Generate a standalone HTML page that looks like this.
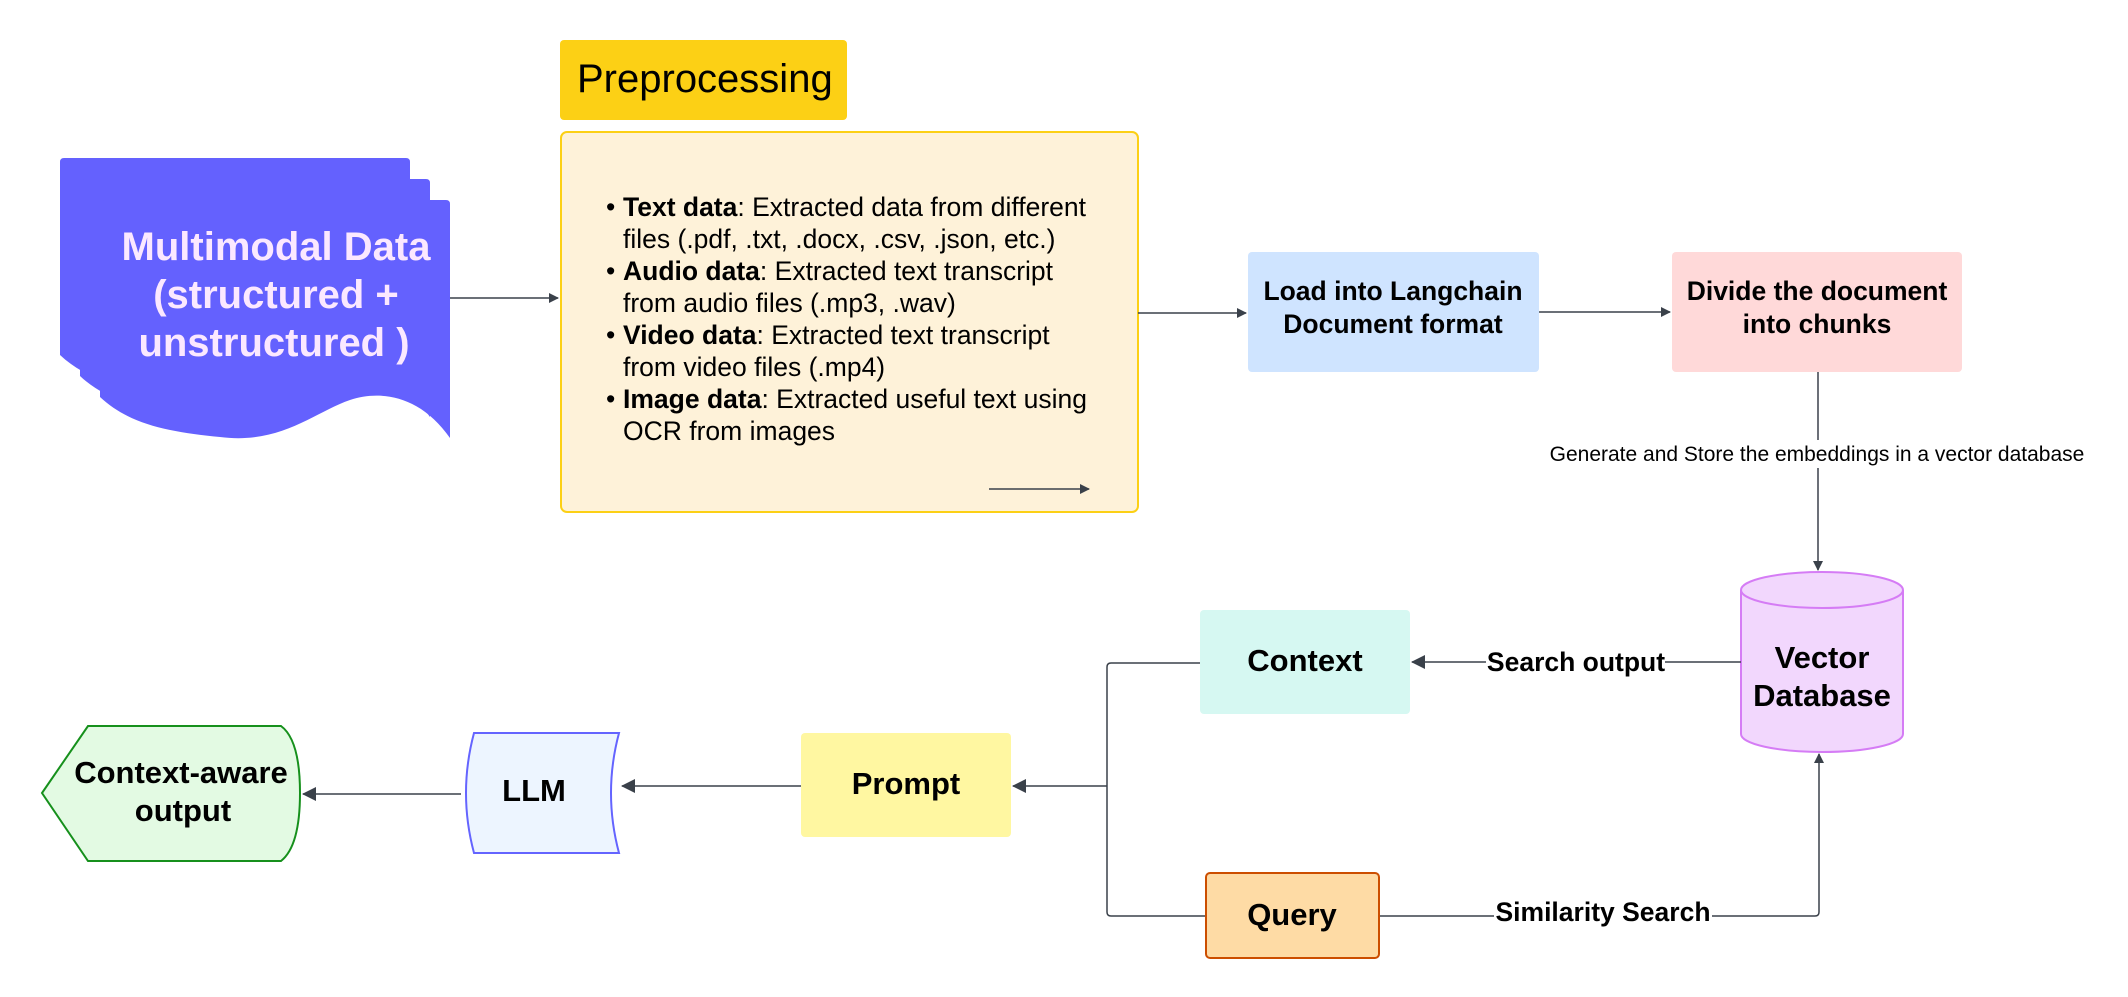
<!DOCTYPE html>
<html><head><meta charset="utf-8"><style>
html,body{margin:0;padding:0;background:#fff;}
svg{display:block;font-family:"Liberation Sans",Arial,sans-serif;}
</style></head><body>
<svg width="2128" height="997" viewBox="0 0 2128 997" xmlns="http://www.w3.org/2000/svg">
<defs>
<marker id="ah" markerWidth="10" markerHeight="10" refX="9" refY="5" orient="auto" markerUnits="userSpaceOnUse">
<path d="M0,0 L10,5 L0,10 z" fill="#3a414a"/></marker>
<marker id="ahb" markerWidth="14" markerHeight="14" refX="13" refY="7" orient="auto" markerUnits="userSpaceOnUse">
<path d="M0,0 L14,7 L0,14 z" fill="#3a414a"/></marker>
</defs>
<rect width="2128" height="997" fill="#fff"/>

<g fill="#6461fe">
<path transform="translate(60,158)" d="M0,4 Q0,0 4,0 H346 Q350,0 350,4 V238 C320,195 280,190 250,200 C215,212 180,245 120,237 C70,232 30,225 0,197 Z"/>
<path transform="translate(80,179)" d="M0,4 Q0,0 4,0 H346 Q350,0 350,4 V238 C320,195 280,190 250,200 C215,212 180,245 120,237 C70,232 30,225 0,197 Z"/>
<path transform="translate(100,200)" d="M0,4 Q0,0 4,0 H346 Q350,0 350,4 V238 C320,195 280,190 250,200 C215,212 180,245 120,237 C70,232 30,225 0,197 Z"/>
</g>
<g fill="#fbe8ff" font-weight="bold" font-size="40" text-anchor="middle">
<text x="276" y="260">Multimodal Data</text>
<text x="276" y="308">(structured +</text>
<text x="274" y="356">unstructured )</text>
</g>
<line x1="450" y1="298" x2="558" y2="298" stroke="#3a414a" stroke-width="1.5" marker-end="url(#ah)"/>

<rect x="560" y="40" width="287" height="80" rx="4" fill="#fcd015"/>
<text x="577" y="92" font-size="40" fill="#000">Preprocessing</text>
<rect x="561" y="132" width="577" height="380" rx="6" fill="#fef2d9" stroke="#fcd015" stroke-width="2"/>
<g font-size="26.5" fill="#000">
<text x="606" y="216">•</text><text x="623" y="216"><tspan font-weight="bold">Text data</tspan>: Extracted data from different</text>
<text x="623" y="248">files (.pdf, .txt, .docx, .csv, .json, etc.)</text>
<text x="606" y="280">•</text><text x="623" y="280"><tspan font-weight="bold">Audio data</tspan>: Extracted text transcript</text>
<text x="623" y="312">from audio files (.mp3, .wav)</text>
<text x="606" y="344">•</text><text x="623" y="344"><tspan font-weight="bold">Video data</tspan>: Extracted text transcript</text>
<text x="623" y="376">from video files (.mp4)</text>
<text x="606" y="408">•</text><text x="623" y="408"><tspan font-weight="bold">Image data</tspan>: Extracted useful text using</text>
<text x="623" y="440">OCR from images</text>
</g>
<line x1="989" y1="489" x2="1089" y2="489" stroke="#3a414a" stroke-width="1.5" marker-end="url(#ah)"/>

<line x1="1138" y1="313" x2="1246" y2="313" stroke="#3a414a" stroke-width="1.5" marker-end="url(#ah)"/>
<rect x="1248" y="252" width="291" height="120" rx="4" fill="#cfe4ff"/>
<g font-weight="bold" font-size="26.5" text-anchor="middle" fill="#000">
<text x="1393" y="300">Load into Langchain</text>
<text x="1393" y="333">Document format</text>
</g>
<line x1="1539" y1="312" x2="1670" y2="312" stroke="#3a414a" stroke-width="1.5" marker-end="url(#ah)"/>
<rect x="1672" y="252" width="290" height="120" rx="4" fill="#ffd9d9"/>
<g font-weight="bold" font-size="26.5" text-anchor="middle" fill="#000">
<text x="1817" y="300">Divide the document</text>
<text x="1817" y="333">into chunks</text>
</g>

<line x1="1818" y1="372" x2="1818" y2="440" stroke="#3a414a" stroke-width="1.5"/>
<line x1="1818" y1="468" x2="1818" y2="570" stroke="#3a414a" stroke-width="1.5" marker-end="url(#ah)"/>
<text x="1817" y="461" font-size="21" text-anchor="middle" fill="#000">Generate and Store the embeddings in a vector database</text>

<path d="M1741,590 V734 A81,18 0 0 0 1903,734 V590 A81,18 0 0 0 1741,590 Z" fill="#f2d7fd" stroke="#d57cf5" stroke-width="2"/>
<path d="M1741,590 A81,18 0 0 0 1903,590" fill="none" stroke="#d57cf5" stroke-width="2"/>
<g font-weight="bold" font-size="31" text-anchor="middle" fill="#000">
<text x="1822" y="668">Vector</text>
<text x="1822" y="706">Database</text>
</g>

<line x1="1741" y1="662" x2="1665" y2="662" stroke="#3a414a" stroke-width="1.5"/>
<line x1="1486" y1="662" x2="1412" y2="662" stroke="#3a414a" stroke-width="1.5" marker-end="url(#ahb)"/>
<text x="1576" y="671" font-weight="bold" font-size="26.5" text-anchor="middle" fill="#000">Search output</text>
<rect x="1200" y="610" width="210" height="104" rx="4" fill="#d6f8f2"/>
<text x="1305" y="671" font-weight="bold" font-size="31" text-anchor="middle" fill="#000">Context</text>

<path d="M1200,663 H1111 Q1107,663 1107,667 V912 Q1107,916 1111,916 H1206" fill="none" stroke="#3a414a" stroke-width="1.5"/>
<line x1="1107" y1="786" x2="1013" y2="786" stroke="#3a414a" stroke-width="1.5" marker-end="url(#ahb)"/>

<rect x="801" y="733" width="210" height="104" rx="4" fill="#fff7a1"/>
<text x="906" y="794" font-weight="bold" font-size="31" text-anchor="middle" fill="#000">Prompt</text>

<rect x="1206" y="873" width="173" height="85" rx="4" fill="#fedba5" stroke="#cc4e00" stroke-width="2"/>
<text x="1292" y="925" font-weight="bold" font-size="31" text-anchor="middle" fill="#000">Query</text>
<line x1="1380" y1="916" x2="1494" y2="916" stroke="#3a414a" stroke-width="1.5"/>
<text x="1603" y="921" font-weight="bold" font-size="26.5" text-anchor="middle" fill="#000">Similarity Search</text>
<path d="M1712,916 H1815 Q1819,916 1819,912 V754" fill="none" stroke="#3a414a" stroke-width="1.5" marker-end="url(#ah)"/>

<line x1="801" y1="786" x2="622" y2="786" stroke="#3a414a" stroke-width="1.5" marker-end="url(#ahb)"/>
<path d="M474,733 H619 Q603,793 619,853 H474 Q458,793 474,733 Z" fill="#edf5ff" stroke="#6464ff" stroke-width="2"/>
<text x="534" y="801" font-weight="bold" font-size="31" text-anchor="middle" fill="#000">LLM</text>

<line x1="461" y1="794" x2="303" y2="794" stroke="#3a414a" stroke-width="1.5" marker-end="url(#ahb)"/>
<path d="M42,793 L88,726 H281 Q300,740 300,793 Q300,846 281,861 H88 Z" fill="#e3fae3" stroke="#16901c" stroke-width="2"/>
<g font-weight="bold" font-size="31" text-anchor="middle" fill="#000">
<text x="181" y="783">Context-aware</text>
<text x="183" y="821">output</text>
</g>
</svg>
</body></html>
